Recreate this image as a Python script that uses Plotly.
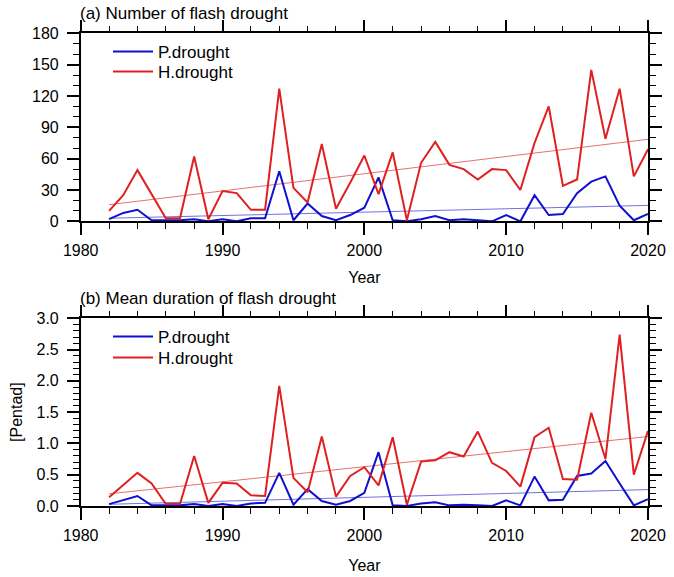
import numpy as np
import plotly.graph_objects as go

years = list(range(1982, 2021))

num_p = [2, 8, 11, 1, 1, 1, 2, 0, 2, 0, 3, 3, 48, 1, 17, 5, 1, 6, 13,
         42, 1, 0, 2, 5, 1, 2, 1, 0, 6, 0, 25, 6, 7, 27, 38, 43, 15, 1, 7]
num_h = [10, 25, 49, 26, 3, 3, 62, 2, 29, 27, 11, 11, 127, 32, 18, 74, 12, 37, 63,
         26, 66, 1, 56, 76, 54, 50, 40, 50, 49, 30, 75, 110, 34, 40, 145, 79, 127, 43, 69]

dur_p = [0.03, 0.10, 0.16, 0.01, 0.01, 0.01, 0.03, 0.0, 0.03, 0.0, 0.04, 0.05, 0.53, 0.02, 0.27, 0.08, 0.02, 0.08, 0.21,
         0.86, 0.01, 0.0, 0.04, 0.06, 0.01, 0.02, 0.01, 0.0, 0.09, 0.01, 0.47, 0.09, 0.10, 0.48, 0.52, 0.72, 0.36, 0.01, 0.11]
dur_h = [0.14, 0.33, 0.53, 0.36, 0.03, 0.03, 0.80, 0.05, 0.37, 0.36, 0.17, 0.16, 1.92, 0.45, 0.22, 1.11, 0.15, 0.48, 0.62,
         0.33, 1.10, 0.02, 0.71, 0.73, 0.86, 0.79, 1.19, 0.69, 0.56, 0.31, 1.10, 1.25, 0.43, 0.42, 1.49, 0.75, 2.74, 0.50, 1.20]

panel_titles = ["(a) Number of flash drought", "(b) Mean duration of flash drought"]
series_names = ["P.drought", "H.drought"]

BLUE = "#1010d0"
RED = "#e02020"
BLUE_T = "#7070e0"
RED_T = "#e87070"
FONT = "Liberation Sans"

W, H = 674, 577

def px(x):
    return x / W

def py(y):
    return 1 - y / H

def trend(x, y):
    c = np.polyfit(x, y, 1)
    return list(np.polyval(c, x))

fig = go.Figure()

leg_rows = {"x": (52, 72), "x2": (337, 358)}
legends = {"x": ("legend", "legend2"), "x2": ("legend3", "legend4")}

panels = [("x", "y", num_p, num_h), ("x2", "y2", dur_p, dur_h)]
for xa, ya, p, h in panels:
    lgp, lgh = legends[xa]
    fig.add_trace(go.Scatter(x=years, y=trend(years, p), mode="lines", xaxis=xa, yaxis=ya,
                             line=dict(color=BLUE_T, width=1), showlegend=False, hoverinfo="skip"))
    fig.add_trace(go.Scatter(x=years, y=trend(years, h), mode="lines", xaxis=xa, yaxis=ya,
                             line=dict(color=RED_T, width=1), showlegend=False, hoverinfo="skip"))
    fig.add_trace(go.Scatter(x=years, y=p, mode="lines", name=series_names[0], xaxis=xa, yaxis=ya,
                             line=dict(color=BLUE, width=2), legend=lgp))
    fig.add_trace(go.Scatter(x=years, y=h, mode="lines", name=series_names[1], xaxis=xa, yaxis=ya,
                             line=dict(color=RED, width=2), legend=lgh))

xdom = [px(80.7), px(648)]
ydom_a = [py(221.3), py(33.3)]
ydom_b = [py(506), py(318.3)]

tickfont = dict(family=FONT, size=16, color="black")

def xaxis_cfg(standoff):
    return dict(range=[1980, 2020], dtick=10, tick0=1980, ticks="outside", ticklen=12, tickwidth=1.5,
                tickcolor="black", showline=True, linecolor="black", linewidth=1.5, mirror="ticks",
                showgrid=False, zeroline=False, tickfont=tickfont, automargin=False, ticklabelstandoff=2,
                minor=dict(dtick=2, tick0=1980, ticks="outside", ticklen=6, tickwidth=1, tickcolor="black"),
                title=dict(text="Year", font=dict(family=FONT, size=16, color="black"), standoff=standoff))

common_y = dict(ticks="outside", ticklen=12, tickwidth=1.5, tickcolor="black", showline=True,
                linecolor="black", linewidth=1.5, mirror="ticks", showgrid=False, zeroline=False,
                tickfont=tickfont, automargin=False, ticklabelstandoff=5)

def leg(yrow):
    return dict(x=px(108), y=py(yrow), xanchor="left", yanchor="middle", bgcolor="rgba(0,0,0,0)",
                font=dict(family=FONT, size=17, color="black"), itemwidth=40)

fig.update_layout(
    width=W, height=H, margin=dict(l=0, r=0, t=0, b=0),
    paper_bgcolor="white", plot_bgcolor="white",
    font=dict(family=FONT, size=16, color="black"),
    xaxis=dict(domain=xdom, anchor="y", **xaxis_cfg(14)),
    xaxis2=dict(domain=xdom, anchor="y2", **xaxis_cfg(17)),
    yaxis=dict(domain=ydom_a, anchor="x", range=[0, 180], dtick=30, tick0=0,
               minor=dict(dtick=10, ticks="outside", ticklen=6, tickwidth=1, tickcolor="black"),
               **common_y),
    yaxis2=dict(domain=ydom_b, anchor="x2", range=[0, 3.0], dtick=0.5, tick0=0, tickformat=".1f",
                minor=dict(dtick=0.1, ticks="outside", ticklen=6, tickwidth=1, tickcolor="black"),
                title=dict(text="[Pentad]", font=dict(family=FONT, size=16, color="black"), standoff=10),
                **common_y),
    legend=leg(leg_rows["x"][0]),
    legend2=leg(leg_rows["x"][1]),
    legend3=leg(leg_rows["x2"][0]),
    legend4=leg(leg_rows["x2"][1]),
    annotations=[
        dict(text=panel_titles[0], x=px(78), y=py(13), xref="paper", yref="paper",
             xanchor="left", yanchor="middle", showarrow=False, font=dict(family=FONT, size=17, color="black")),
        dict(text=panel_titles[1], x=px(78), y=py(298), xref="paper", yref="paper",
             xanchor="left", yanchor="middle", showarrow=False, font=dict(family=FONT, size=17, color="black")),
    ],
)

fig.write_html("out.html", config={"displayModeBar": False},
               post_script="document.body.style.margin='0';")
